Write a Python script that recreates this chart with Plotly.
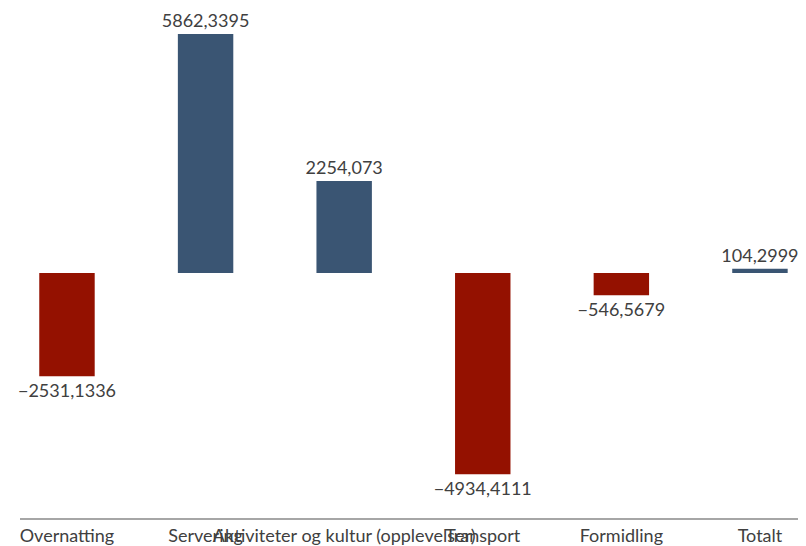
import plotly.graph_objects as go

categories = ["Overnatting", "Servering", "Aktiviteter og kultur (opplevelser)",
              "Transport", "Formidling", "Totalt"]
values = [-2531.1336, 5862.3395, 2254.073, -4934.4111, -546.5679, 104.2999]

colors = ["#941100" if v < 0 else "#3A5573" for v in values]
labels = [str(v).replace(".", ",").replace("-", "\u2212") for v in values]

fig = go.Figure(go.Bar(
    x=categories,
    y=values,
    marker=dict(color=colors, line=dict(width=0)),
    width=0.4,
    text=labels,
    textposition="outside",
    constraintext="none",
    textfont=dict(family="Lato", size=18, color="#404040"),
    cliponaxis=False,
))

# page body has an 8px margin, so the figure is laid out 8px in from the corner
fig.update_layout(
    width=806, height=546,
    margin=dict(l=12, r=0, t=0, b=36),
    paper_bgcolor="white", plot_bgcolor="white",
    showlegend=False,
    font=dict(family="Lato", size=18, color="#404040"),
    xaxis=dict(
        range=[-0.339, 5.39],
        automargin=False,
        showgrid=False, zeroline=False,
        showline=True, linecolor="#A6A6A6", linewidth=2,
        tickangle=0, ticks="", ticklabelstandoff=0,
        tickfont=dict(family="Lato", size=18, color="#404040"),
    ),
    yaxis=dict(
        range=[-6009, 6500],
        automargin=False,
        visible=False, showgrid=False, zeroline=False,
    ),
)

fig.write_html("out.html")
